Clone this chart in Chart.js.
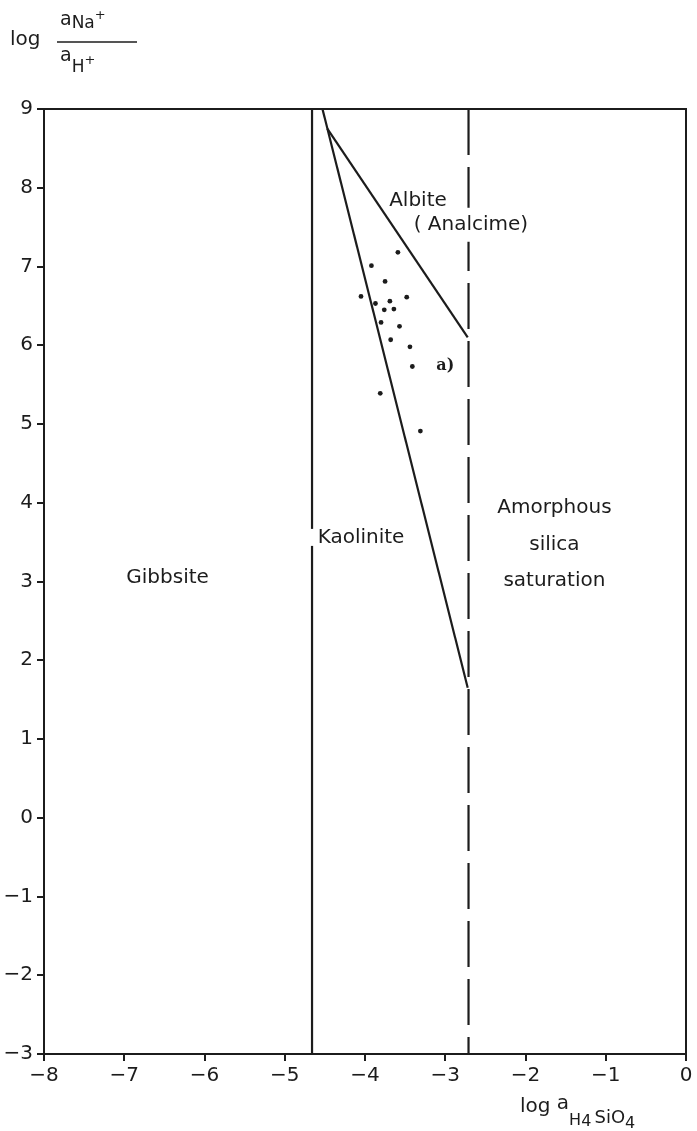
<!DOCTYPE html>
<html>
<head>
<meta charset="utf-8">
<script src="https://cdn.jsdelivr.net/npm/chart.js@4.4.1/dist/chart.umd.min.js"></script>
<style>
  html, body { margin: 0; padding: 0; background: #fff; }
  #wrap { width: 697px; height: 1131px; position: relative; }
</style>
</head>
<body>
<div id="wrap"><canvas id="diagram"></canvas></div>
<script>
// axis ticks
const xTicks = [-8, -7, -6, -5, -4, -3, -2, -1, 0];
const yTicks = [-3, -2, -1, 0, 1, 2, 3, 4, 5, 6, 7, 8, 9];

// water samples: log aH4SiO4 vs log(aNa+/aH+)
const sampleSi = [-3.59, -3.92, -3.75, -4.05, -3.48, -3.87, -3.69, -3.76, -3.64, -3.80, -3.57, -3.68, -3.44, -3.41, -3.81, -3.31];
const sampleNa = [7.18, 7.01, 6.81, 6.62, 6.61, 6.53, 6.56, 6.45, 6.46, 6.29, 6.24, 6.07, 5.98, 5.73, 5.39, 4.91];

// stability field boundaries
const gibbsiteX = [-4.66, -4.66];
const gibbsiteY = [9, -3];
const kaoliniteX = [-4.53, -2.72];
const kaoliniteY = [9, 1.65];
const albiteX = [-4.47, -2.72];
const albiteY = [8.75, 6.10];
const silicaX = [-2.71, -2.71];
const silicaY = [9, -3];

const ink = '#1c1c1c';
const font = '"DejaVu Sans", sans-serif';
const pairs = (xs, ys) => xs.map((v, i) => ({x: v, y: ys[i]}));
const minus = v => String(v).replace('-', '\u2212');

function lineSet(xs, ys, dash) {
    return {
        type: 'line',
        data: pairs(xs, ys),
        borderColor: ink,
        borderWidth: 2.2,
        borderDash: dash || [],
        pointRadius: 0,
        fill: false,
        tension: 0
    };
}

const textPlugin = {
    id: 'fieldText',
    afterDraw(chart) {
        const {ctx, chartArea: a, scales: {x, y}} = chart;
        ctx.save();
        ctx.strokeStyle = ink;
        ctx.lineWidth = 2;
        ctx.beginPath();
        ctx.moveTo(a.left, a.top);
        ctx.lineTo(a.right, a.top);
        ctx.lineTo(a.right, a.bottom);
        ctx.stroke();

        ctx.fillStyle = ink;
        ctx.textBaseline = 'middle';
        const put = (str, vx, vy, size, align, clear, boxH) => {
            ctx.font = `${size}px ${font}`;
            ctx.textAlign = align || 'center';
            const px = x.getPixelForValue(vx);
            const py = y.getPixelForValue(vy);
            if (clear) {
                const w = ctx.measureText(str).width;
                const left = align === 'left' ? px : px - w / 2;
                ctx.fillStyle = '#fff';
                ctx.fillRect(left - clear, py - boxH / 2, w + clear + 3, boxH);
                ctx.fillStyle = ink;
            }
            ctx.fillText(str, px, py);
        };
        put('Gibbsite', -6.46, 3.05, 20);
        put('Kaolinite', -4.59, 3.56, 20, 'left', 8, 17);
        put('Albite', -3.34, 7.84, 20);
        put('( Analcime)', -2.68, 7.53, 20, 'center', 2, 34);
        put('Amorphous', -1.64, 3.93, 20);
        put('silica', -1.64, 3.47, 20);
        put('saturation', -1.64, 3.01, 20);
        ctx.font = `bold 16px "DejaVu Serif", serif`;
        ctx.textAlign = 'center';
        ctx.fillText('a)', x.getPixelForValue(-3.0), y.getPixelForValue(5.74));

        // y axis title: log aNa+/aH+
        ctx.textBaseline = 'alphabetic';
        ctx.textAlign = 'left';
        const run = (parts, startX) => {
            let cx = startX;
            parts.forEach(([str, size, base]) => {
                ctx.font = `${size}px ${font}`;
                ctx.fillText(str, cx, base);
                cx += ctx.measureText(str).width;
            });
            return cx;
        };
        run([['log', 20, 45]], 10);
        run([['a', 19, 25], ['Na', 17, 28], ['+', 13, 19]], 60);
        run([['a', 19, 61], ['H', 17, 72], ['+', 13, 64]], 60);
        ctx.lineWidth = 1.5;
        ctx.beginPath();
        ctx.moveTo(57, 42);
        ctx.lineTo(137, 42);
        ctx.stroke();

        // x axis title: log aH4SiO4
        run([['log', 20, 1112], [' ', 20, 1112], ['a', 20, 1109], ['H', 16, 1125], ['4', 16, 1126], [' ', 10, 1123], ['SiO', 18, 1123], ['4', 16, 1128]], 520);
        ctx.restore();
    }
};

new Chart(document.getElementById('diagram'), {
    type: 'scatter',
    data: {
        datasets: [
            lineSet(gibbsiteX, gibbsiteY),
            lineSet(kaoliniteX, kaoliniteY),
            lineSet(albiteX, albiteY),
            lineSet(silicaX, silicaY, [46, 12]),
            {
                type: 'scatter',
                data: pairs(sampleSi, sampleNa),
                pointRadius: 2.4,
                pointBackgroundColor: ink,
                pointBorderWidth: 0
            }
        ]
    },
    options: {
        responsive: true,
        maintainAspectRatio: false,
        animation: false,
        layout: {padding: {top: 109, right: 11, left: 0, bottom: 0}},
        plugins: {legend: {display: false}, tooltip: {enabled: false}},
        scales: {
            x: {
                type: 'linear',
                min: -8,
                max: 0,
                afterFit(scale) { scale.height = 77; },
                afterBuildTicks(scale) { scale.ticks = xTicks.map(v => ({value: v})); },
                grid: {drawOnChartArea: false, tickLength: 7, color: ink, lineWidth: 2},
                border: {color: ink, width: 2},
                ticks: {color: ink, padding: 3, font: {family: font, size: 20}, callback: minus, maxRotation: 0}
            },
            y: {
                type: 'linear',
                min: -3,
                max: 9,
                afterFit(scale) { scale.width = 44; },
                afterBuildTicks(scale) { scale.ticks = yTicks.map(v => ({value: v})); },
                grid: {drawOnChartArea: false, tickLength: 7, color: ink, lineWidth: 2},
                border: {color: ink, width: 2},
                ticks: {color: ink, padding: 4, font: {family: font, size: 20}, callback: minus}
            }
        }
    },
    plugins: [textPlugin]
});
</script>
</body>
</html>
